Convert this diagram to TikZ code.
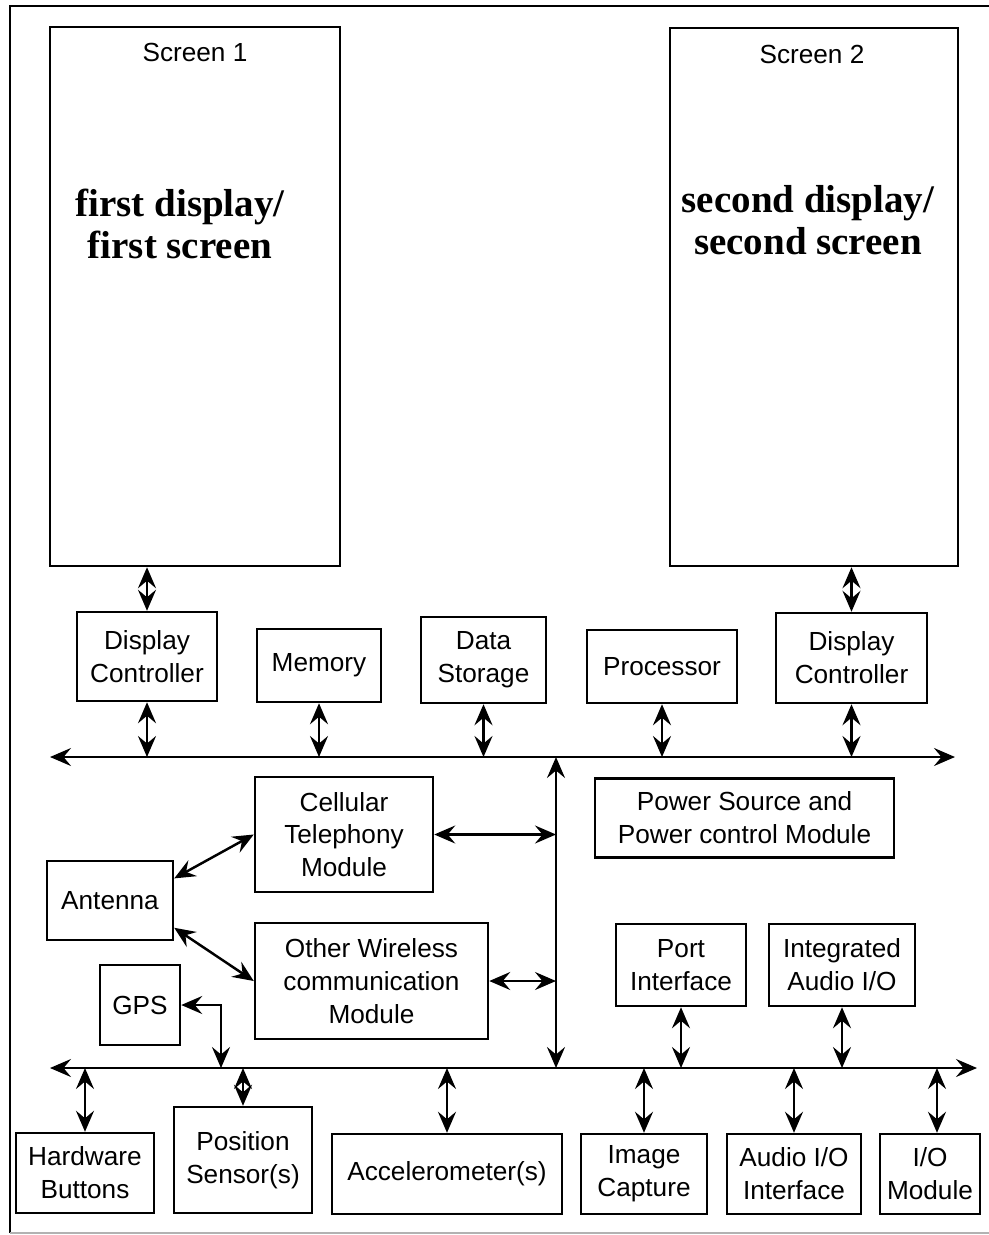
\documentclass[tikz,border=0pt]{standalone}
\usepackage{fontspec}
\setmainfont{Liberation Sans}
\newfontfamily\dispfont{Liberation Serif}
\usetikzlibrary{arrows.meta}

\begin{document}
\begin{tikzpicture}[x=0.2mm,y=-0.2mm,
		blk/.style={draw, line width=1.4pt, inner sep=0pt, align=center,
			font=\fontsize{14.9}{18.7}\selectfont},
		dbl/.style={line width=1.4pt, {Stealth[length=4.2mm,width=3.6mm,inset=1.5mm]}-{Stealth[length=4.2mm,width=3.6mm,inset=1.5mm]}},
		big/.style={align=center, font=\dispfont\bfseries\fontsize{22.2}{24}\selectfont}]
			\useasboundingbox (0,0) rectangle (989,1235);
			\draw [line width=1.4pt] (10,1233) -- (10,6) -- (989,6);
			\draw [gray!60, line width=0.8pt] (10,1233) -- (989,1233);
			% the two screens
			\node[blk, minimum width=58mm, minimum height=107.8mm] (scrA) at (195,296.5) {};
			\node[font=\fontsize{14.9}{18.7}\selectfont] (scrAlbl) at (195,52) {Screen 1};
			\node[big] (scrAtxt) at (180,224) {first display/\\first screen};
			\node[blk, minimum width=57.6mm, minimum height=107.6mm] (scrB) at (814,297) {};
			\node[font=\fontsize{14.9}{18.7}\selectfont] (scrBlbl) at (812,54) {Screen 2};
			\node[big] (scrBtxt) at (808,220) {second display/\\second screen};
			% upper row
			\node[blk, minimum width=28mm, minimum height=17.8mm] (dcA) at (147,656.5) {Display\\Controller};
			\node[blk, minimum width=24.8mm, minimum height=14.6mm] (mem) at (319,665.5) {Memory};
			\node[blk, minimum width=25mm, minimum height=17.2mm] (stor) at (483.5,660) {Data\\Storage};
			\node[blk, minimum width=30mm, minimum height=14.6mm] (proc) at (662,666.5) {Processor};
			\node[blk, minimum width=30.2mm, minimum height=18mm] (dcB) at (851.5,658) {Display\\Controller};
			\coordinate (busAL) at (50,757);
			\coordinate (busAR) at (955,757);
			\draw[dbl] (busAL) -- (busAR);
			\draw[dbl] (dcA.north |- scrA.south) -- (dcA.north);
			\draw[dbl] (dcB.north |- scrB.south) -- (dcB.north);
			\foreach \n in {dcA,mem,stor,proc,dcB}
				\draw[dbl] (\n.south) -- (\n.south |- busAL);
			% middle
			\node[blk, minimum width=35.6mm, minimum height=23mm] (cell) at (344,834.5) {Cellular\\Telephony\\Module};
			\node[blk, minimum width=46.6mm, minimum height=23.2mm] (wless) at (371.5,981) {Other Wireless\\communication\\Module};
			\node[blk, minimum width=25.2mm, minimum height=15.8mm] (ant) at (110,900.5) {Antenna};
			\node[blk, minimum width=16mm, minimum height=16mm] (gps) at (140,1005) {GPS};
			\node[blk, minimum width=59.8mm, minimum height=15.8mm] (pwr) at (744.5,818) {Power Source and\\Power control Module};
			\node[blk, minimum width=26mm, minimum height=16.4mm] (port) at (681,965) {Port\\Interface};
			\node[blk, minimum width=29.2mm, minimum height=16.4mm] (integ) at (842,965) {Integrated\\Audio I/O};
			\coordinate (trkA) at (556,757);
			\coordinate (trkB) at (556,1068);
			\draw[dbl] (trkA) -- (trkB);
			\draw[dbl] (cell.east) -- (cell.east -| trkA);
			\draw[dbl] (wless.east) -- (wless.east -| trkA);
			\draw[dbl] (ant.19) -- (cell.west);
			\draw[dbl] (ant.-23) -- (wless.west);
			% lower row
			\coordinate (busBL) at (50,1068);
			\coordinate (busBR) at (977,1068);
			\coordinate (gpsj) at (221,1068);
			\draw[dbl] (busBL) -- (busBR);
			\draw[dbl] (gps.east) -| (gpsj);
			\node[blk, minimum width=27.6mm, minimum height=16mm] (hwb) at (85,1173) {Hardware\\Buttons};
			\node[blk, minimum width=27.6mm, minimum height=21.2mm] (pos) at (243,1160) {Position\\Sensor(s)};
			\node[blk, minimum width=46mm, minimum height=16mm] (acc) at (447,1174) {Accelerometer(s)};
			\node[blk, minimum width=25.2mm, minimum height=16mm] (img) at (644,1174) {Image\\Capture};
			\node[blk, minimum width=26.8mm, minimum height=16mm] (aio) at (794,1174) {Audio I/O\\Interface};
			\node[blk, minimum width=20mm, minimum height=16mm] (iom) at (930,1174) {I/O\\Module};
			\foreach \n in {port,integ}
				\draw[dbl] (\n.south) -- (\n.south |- busBL);
			\foreach \n in {hwb,pos,acc,img,aio}
				\draw[dbl] (\n.north |- busBL) -- (\n.north);
			\draw[dbl] (937,1068) -- (iom.north -| 937,0);
\end{tikzpicture}
\end{document}
